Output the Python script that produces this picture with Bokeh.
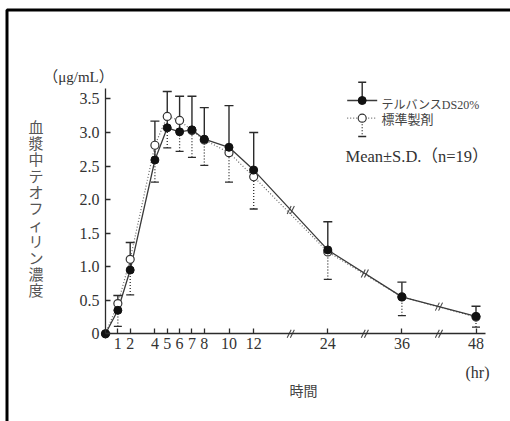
import numpy as np
from bokeh.plotting import figure
from bokeh.models import (ColumnDataSource, Whisker, TeeHead, FixedTicker, LinearAxis,
                          Label, BoxAnnotation, Range1d)
from bokeh.embed import file_html
from bokeh.resources import INLINE

# ---------------- data ----------------
times = [0, 1, 2, 4, 5, 6, 7, 8, 10, 12, 24, 36, 48]
telvans_mean = [0, 0.35, 0.95, 2.59, 3.07, 3.01, 3.04, 2.90, 2.78, 2.44, 1.25, 0.55, 0.26]
telvans_sd = [0, 0.22, 0.41, 0.58, 0.54, 0.53, 0.50, 0.47, 0.62, 0.56, 0.42, 0.22, 0.15]
standard_mean = [0, 0.45, 1.11, 2.81, 3.24, 3.18, 3.03, 2.89, 2.70, 2.34, 1.22, 0.55, 0.25]
standard_sd = [0, 0.34, 0.53, 0.55, 0.47, 0.46, 0.40, 0.38, 0.44, 0.48, 0.41, 0.28, 0.15]
series_names = ["テルバンスDS20%", "標準製剤"]
x_tick_hours = [1, 2, 4, 5, 6, 7, 8, 10, 12, 24, 36, 48]
x_break_hours = [18, 30, 42]
y_ticks = [0, 0.5, 1.0, 1.5, 2.0, 2.5, 3.0, 3.5]
y_tick_labels = ["0", "0.5", "1.0", "1.5", "2.0", "2.5", "3.0", "3.5"]
y_title = "血漿中テオフィリン濃度"
y_unit = "（μg/mL）"
x_title = "時間"
x_unit = "(hr)"
stat_note = "Mean±S.D.（n=19）"

# ---------------- layout helpers ----------------
W, H = 510, 421
X0_PX, Y0_PX = 105.0, 333.3       # pixel of the origin
SX, SY = 12.35, 67.1              # pixels per unit


def axis_pos(t):
    """Broken time axis: after 12 h the scale is compressed by half."""
    t = np.asarray(t, dtype=float)
    return np.where(t <= 12, t, 12 + (t - 12) / 2.0)


def px2x(px):
    return (px - X0_PX) / SX


def px2y(py):
    return (Y0_PX - py) / SY


p = figure(width=W, height=H, output_backend="svg", toolbar_location=None,
           x_range=Range1d(px2x(0), px2x(W)), y_range=Range1d(px2y(H), px2y(0)),
           x_axis_type=None, y_axis_type=None,
           min_border_left=0, min_border_right=0, min_border_top=0, min_border_bottom=0)
p.outline_line_color = None
p.background_fill_color = "white"
p.border_fill_color = "white"

ink = "#2b2b2b"
serif = "Liberation Serif"
jp = "Noto Sans CJK JP"

# ---------------- axes ----------------
xt_ticks = [int(v) for v in axis_pos(x_tick_hours)]
xaxis = LinearAxis(ticker=FixedTicker(ticks=xt_ticks), fixed_location=0,
                   bounds=(0, px2x(485)))
xaxis.major_label_overrides = {k: str(h) for k, h in zip(xt_ticks, x_tick_hours)}
yaxis = LinearAxis(ticker=FixedTicker(ticks=y_ticks), fixed_location=0,
                   bounds=(0, px2y(88)))
yaxis.major_label_overrides = {k: s for k, s in zip(y_ticks, y_tick_labels)}
for ax in (xaxis, yaxis):
    ax.axis_line_color = ink
    ax.axis_line_width = 1.3
    ax.major_tick_line_color = ink
    ax.major_tick_line_width = 1.3
    ax.major_tick_in = 5
    ax.major_tick_out = 0
    ax.minor_tick_line_color = None
    ax.major_label_text_font = serif
    ax.major_label_text_font_size = "16px"
    ax.major_label_text_color = "#333333"
xaxis.major_label_standoff = 4
yaxis.major_label_standoff = 6
p.add_layout(xaxis, "below")
p.add_layout(yaxis, "left")

# ---------------- data marks ----------------
xt = axis_pos(times)
tm = np.array(telvans_mean)
tsd = np.array(telvans_sd)
sm = np.array(standard_mean)
ssd = np.array(standard_sd)
src = ColumnDataSource(dict(x=xt, tm=tm, sm=sm))

p.line("x", "sm", source=src, line_color="#6a6a6a", line_width=1.2, line_dash="1 2")
p.line("x", "tm", source=src, line_color="#3a3a3a", line_width=1.3)

mt = tsd > 0
wt = ColumnDataSource(dict(x=xt[mt], lo=tm[mt], hi=tm[mt] + tsd[mt]))
p.add_layout(Whisker(base="x", lower="lo", upper="hi", source=wt, dimension="height",
                     line_color=ink, line_width=1.4, lower_head=None,
                     upper_head=TeeHead(size=9, line_color=ink, line_width=1.4)))
ms = ssd > 0
ws = ColumnDataSource(dict(x=xt[ms], lo=sm[ms] - ssd[ms], hi=sm[ms]))
p.add_layout(Whisker(base="x", lower="lo", upper="hi", source=ws, dimension="height",
                     line_color=ink, line_width=1.3, line_dash="1 2", upper_head=None,
                     lower_head=TeeHead(size=8, line_color=ink, line_width=1.3)))

p.scatter("x", "sm", source=src, size=8, fill_color="white", line_color="#333333", line_width=1.2)
p.scatter("x", "tm", source=src, size=8, fill_color="#111111", line_color="#111111")

# break marks (double slash) on the axis and on the curve, at the mid-hours
bx = axis_pos(x_break_hours)
by = np.interp(bx, xt, tm)
bxs = np.concatenate([bx, bx])
bys = np.concatenate([np.zeros_like(bx), by])
dx, dy, gap = 2.0 / SX, 4.0 / SY, 1.6 / SX
for off in (-gap, gap):
    p.segment(x0=bxs + off - dx, y0=bys - dy, x1=bxs + off + dx, y1=bys + dy,
              line_color="#444444", line_width=1.1)

# ---------------- legend (drawn) ----------------
kx = px2x(361.7)
r1, r2 = px2y(100), px2y(117.7)
half = 15 / SX
cap = 4 / SX
bar = 18.3 / SY
p.segment(x0=[kx - half], y0=[r1], x1=[kx + half], y1=[r1], line_color="#3a3a3a", line_width=1.3)
p.segment(x0=[kx, kx - cap], y0=[r1, r1 + bar], x1=[kx, kx + cap], y1=[r1 + bar, r1 + bar],
          line_color=ink, line_width=1.4)
p.segment(x0=[kx - half], y0=[r2], x1=[kx + half], y1=[r2], line_color="#6a6a6a",
          line_width=1.2, line_dash="1 2")
p.segment(x0=[kx], y0=[r2], x1=[kx], y1=[r2 - bar], line_color=ink, line_width=1.3, line_dash="1 2")
p.segment(x0=[kx - cap], y0=[r2 - bar], x1=[kx + cap], y1=[r2 - bar], line_color=ink, line_width=1.3)
p.scatter(x=[kx], y=[r2], size=8, fill_color="white", line_color="#333333", line_width=1.2)
p.scatter(x=[kx], y=[r1], size=8, fill_color="#111111", line_color="#111111")

tx = px2x(381)
p.add_layout(Label(x=tx, y=r1 - 4 / SY, text=series_names[0], text_font=serif + ", " + jp,
                   text_font_size="12px", text_color="#444444", text_baseline="middle"))
p.add_layout(Label(x=tx, y=r2, text=series_names[1], text_font=jp,
                   text_font_size="13px", text_color="#444444", text_baseline="middle"))
p.add_layout(Label(x=px2x(345), y=px2y(156), text=stat_note, text_font=serif + ", " + jp,
                   text_font_size="16.5px", text_color="#333333", text_baseline="middle"))

# ---------------- titles ----------------
p.add_layout(Label(x=px2x(35.5), y=px2y(115), text="\n".join(y_title), text_font=jp,
                   text_font_size="15px", text_line_height=0.78, text_color="#555555",
                   text_align="center", text_baseline="top"))
p.add_layout(Label(x=px2x(78), y=px2y(76), text=y_unit, text_font=serif + ", " + jp,
                   text_font_size="15px", text_color="#333333", text_align="center",
                   text_baseline="middle"))
p.add_layout(Label(x=px2x(303), y=px2y(389), text=x_title, text_font=jp,
                   text_font_size="14px", text_color="#444444", text_align="center",
                   text_baseline="middle"))
p.add_layout(Label(x=px2x(477), y=px2y(372), text=x_unit, text_font=serif,
                   text_font_size="16px", text_color="#333333", text_align="center",
                   text_baseline="middle"))

# outer frame (left and top edges visible)
p.add_layout(BoxAnnotation(left=px2x(6.5), right=px2x(W + 40), top=px2y(9.5), bottom=px2y(H + 40),
                           fill_alpha=0, line_color="black", line_alpha=1.0, line_width=3))

open("out.html", "w").write(file_html(p, INLINE))
